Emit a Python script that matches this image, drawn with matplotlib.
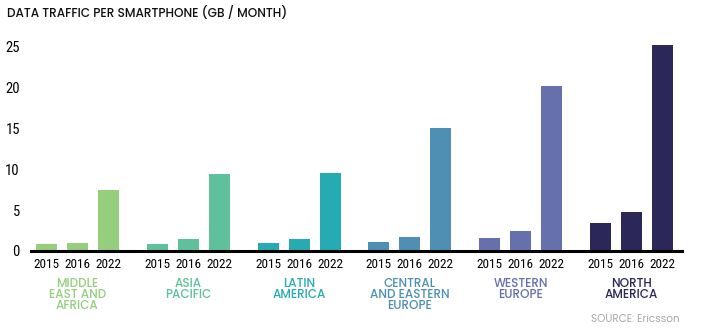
import numpy as np
import matplotlib
matplotlib.use("Agg")
from matplotlib import pyplot as plt

# data
regions = ["MIDDLE\nEAST AND\nAFRICA", "ASIA\nPACIFIC", "LATIN\nAMERICA",
           "CENTRAL\nAND EASTERN\nEUROPE", "WESTERN\nEUROPE", "NORTH\nAMERICA"]
years = ["2015", "2016", "2022"]
v2015 = [0.85, 0.85, 1.0, 1.1, 1.6, 3.4]
v2016 = [1.0, 1.5, 1.5, 1.7, 2.4, 4.8]
v2022 = [7.4, 9.4, 9.5, 15.0, 20.1, 25.1]
colors = ["#95cf7e", "#5ec19b", "#27abb2", "#4e8fb3", "#6670ad", "#2b2759"]

narrow = ["Roboto Condensed", "DejaVu Sans"]
wide = ["Poppins", "Lato", "DejaVu Sans"]

fig = plt.figure(figsize=(7.05, 3.34), dpi=100)
ax = fig.add_axes([31/705, 83/334, (682-31)/705, (251-38)/334])

G = 3.58
vals = np.array([v2015, v2016, v2022]).T
xpos = []
xlab = []
for g in range(len(regions)):
    for i in range(3):
        x = g*G + i
        ax.bar(x, vals[g, i], width=0.68, color=colors[g])
        xpos.append(x)
        xlab.append(years[i])
    ax.text(g*G + 1, -3.25, regions[g], ha="center", va="top", color=colors[g],
            fontsize=8.6, family=wide, fontweight=500, linespacing=0.9)

ax.set_xlim(-0.5, 5*G + 2 + 0.63)
ax.set_ylim(0, 26)
ax.set_xticks(xpos)
ax.set_xticklabels(xlab, family=narrow, fontsize=9.5)
ax.set_yticks([0, 5, 10, 15, 20, 25])
ax.set_yticklabels(["0", "5", "10", "15", "20", "25"], family=narrow, fontsize=10.5)
ax.tick_params(length=0)
ax.tick_params(axis="y", pad=8)
ax.tick_params(axis="x", pad=5)
for s in ["top", "right", "left"]:
    ax.spines[s].set_visible(False)
ax.spines["bottom"].set_linewidth(2.2)

fig.text(7/705, 1 - 13/334, "DATA TRAFFIC PER SMARTPHONE (GB / MONTH)", family=wide,
         fontsize=8.7, fontweight=500, va="center", ha="left", color="#111111")
fig.text(680/705, 1 - 320/334, "SOURCE: Ericsson", family=wide, fontsize=7.5,
         va="center", ha="right", color="#a8a8a8")

fig.savefig("out.png", dpi=100)
